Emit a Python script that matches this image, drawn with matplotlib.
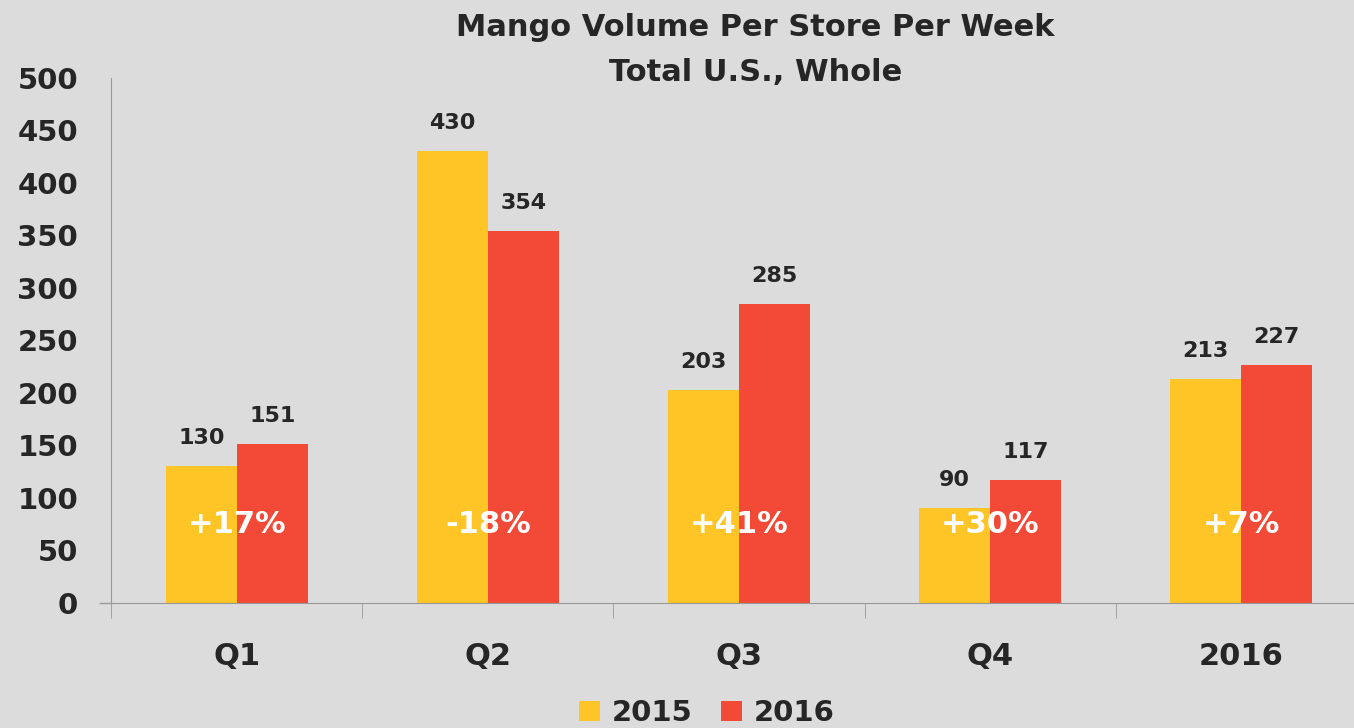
import numpy as np
import matplotlib
matplotlib.use('Agg')
import matplotlib.pyplot as plt

# data
categories = ['Q1', 'Q2', 'Q3', 'Q4', '2016']
vol_2015 = [130, 430, 203, 90, 213]
vol_2016 = [151, 354, 285, 117, 227]
changes = ['+17%', '-18%', '+41%', '+30%', '+7%']
series_names = ['2015', '2016']

BG = '#dcdcdc'
YELLOW = '#ffc425'
RED = '#f24a37'
DARK = '#262626'

plt.rcParams['font.family'] = ['DejaVu Sans']

fig = plt.figure(figsize=(13.54, 7.28), dpi=100, facecolor=BG)
ax = fig.add_axes([0.0823, 0.1717, 0.927, 0.7212], facecolor=BG)

x = np.arange(len(categories))
w = 0.283
b1 = ax.bar(x - w / 2, vol_2015, w, color=YELLOW, label=series_names[0])
b2 = ax.bar(x + w / 2, vol_2016, w, color=RED, label=series_names[1])

#value labels above the bars
for bars in (b1, b2):
    for rect in bars:
        h = rect.get_height()
        ax.annotate(f'{h:.0f}', (rect.get_x() + rect.get_width() / 2, h),
                    xytext=(0, 13), textcoords='offset points',
                    ha='center', va='bottom', fontsize=16,
                    fontweight='bold', color=DARK)

#change labels inside the bars
for xi, txt in zip(x, changes):
    ax.text(xi, 75, txt, ha='center', va='center', fontsize=22,
            fontweight='bold', color='white')

ax.set_xlim(-0.5, 4.5)
ax.set_ylim(0, 500)
ax.set_yticks(np.arange(0, 501, 50))
ax.tick_params(axis='y', length=0, labelsize=21, labelcolor=DARK, pad=24)
for lbl in ax.get_yticklabels():
    lbl.set_fontweight('bold')

ax.set_xticks(x)
ax.set_xticklabels(categories, fontsize=22, fontweight='bold', color=DARK)
ax.set_xticks(np.arange(-0.5, 5, 1), minor=True)
ax.tick_params(axis='x', which='major', length=0, pad=28)
ax.tick_params(axis='x', which='minor', length=11, color='#999999')

for s in ['top', 'right']:
    ax.spines[s].set_visible(False)
ax.spines['left'].set_color('#999999')
ax.spines['bottom'].set_color('#999999')
ax.plot([-0.545, -0.5], [0, 0], color='#999999', lw=1, clip_on=False)

fig.text(0.558, 0.962, 'Mango Volume Per Store Per Week', ha='center',
         va='center', fontsize=22, fontweight='bold', color=DARK)
fig.text(0.558, 0.900, 'Total U.S., Whole', ha='center', va='center',
         fontsize=22, fontweight='bold', color=DARK)

leg = fig.legend(loc='center', bbox_to_anchor=(0.522, 0.02), ncol=2,
                 frameon=False, fontsize=21, handlelength=0.7,
                 handleheight=0.7, handletextpad=0.4, columnspacing=1.0)
for t in leg.get_texts():
    t.set_fontweight('bold')
    t.set_color(DARK)

plt.savefig('out.png', dpi=100, facecolor=BG)
plt.close(fig)
